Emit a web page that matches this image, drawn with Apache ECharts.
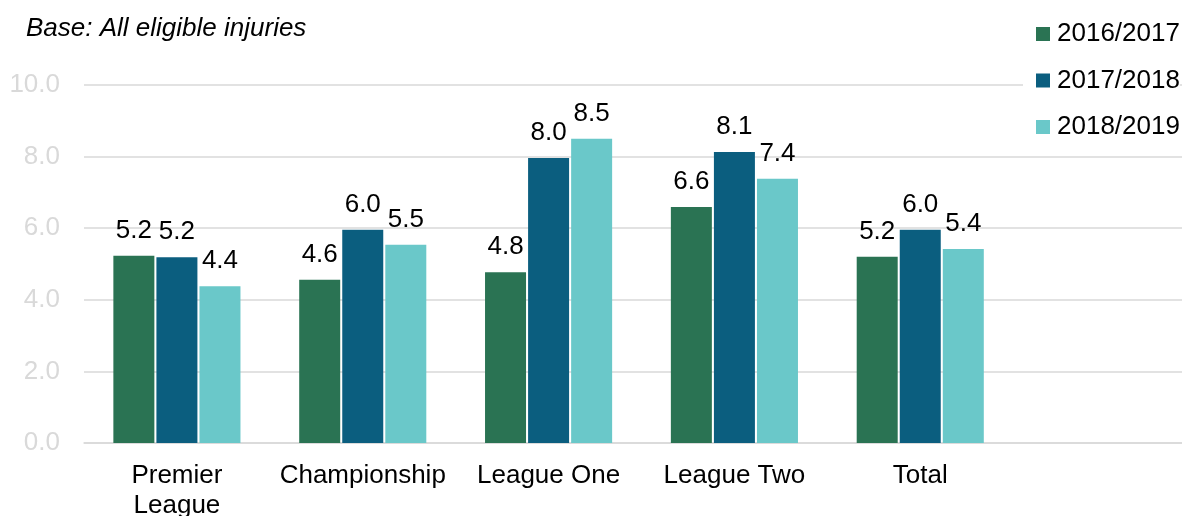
<!DOCTYPE html>
<html>
<head>
<meta charset="utf-8">
<script src="https://cdn.jsdelivr.net/npm/echarts@6/dist/echarts.min.js"></script>
<style>
  html, body { margin: 0; padding: 0; background: #fff; }
  #chart { width: 1182px; height: 516px; }
</style>
</head>
<body>
<div id="chart"></div>
<script>
// categories (last slot is an empty placeholder, as in the source)
const categories = ['Premier\nLeague', 'Championship', 'League One', 'League Two', 'Total', '']
const seasons = ['2016/2017', '2017/2018', '2018/2019']
const s2016 = [5.23, 4.56, 4.77, 6.59, 5.2]
const s2017 = [5.19, 5.96, 7.96, 8.13, 5.96]
const s2018 = [4.38, 5.54, 8.5, 7.38, 5.42]
const colors = ['#2a7353', '#0b5e7f', '#6ac8c9']

const font = 'Liberation Sans, Arial, sans-serif'

const makeSeries = (name, data, color) => ({
  name: name,
  type: 'bar',
  data: data,
  barWidth: 41,
  barGap: '5%',
  itemStyle: { color: color },
  label: {
    show: true,
    position: 'top',
    distance: 12,
    color: '#000',
    fontSize: 26,
    fontFamily: font,
    formatter: p => p.value.toFixed(1)
  }
})

const option = {
  animation: false,
  backgroundColor: '#fff',
  title: {
    text: 'Base: All eligible injuries',
    left: 21,
    top: 11,
    textStyle: {
      fontSize: 26,
      fontStyle: 'italic',
      fontWeight: 'normal',
      color: '#000',
      fontFamily: font
    }
  },
  legend: {
    orient: 'vertical',
    left: 1023,
    top: 21,
    padding: [0, 0, 0, 13],
    backgroundColor: '#fff',
    itemWidth: 14,
    itemHeight: 14,
    itemGap: 20.5,
    icon: 'rect',
    data: seasons,
    textStyle: {
      fontSize: 26,
      lineHeight: 26,
      color: '#000',
      fontFamily: font,
      padding: [0, 0, 0, 2]
    }
  },
  grid: {
    left: 84,
    top: 85,
    width: 1115,
    height: 358,
    outerBoundsMode: 'none',
    containLabel: false
  },
  xAxis: {
    type: 'category',
    data: categories,
    axisLine: { show: true, lineStyle: { color: '#d9d9d9', width: 1.5 } },
    axisTick: { show: false },
    axisLabel: {
      margin: 18,
      fontSize: 26,
      lineHeight: 30,
      color: '#000',
      fontFamily: font,
      interval: 0
    }
  },
  yAxis: {
    type: 'value',
    min: 0,
    max: 10,
    interval: 2,
    axisLine: { show: false },
    axisTick: { show: false },
    splitLine: { lineStyle: { color: '#d9d9d9', width: 1.5 } },
    axisLabel: {
      margin: 24,
      fontSize: 26,
      color: '#d9d9d9',
      fontFamily: font,
      formatter: v => v.toFixed(1)
    }
  },
  series: [
    makeSeries(seasons[0], s2016, colors[0]),
    makeSeries(seasons[1], s2017, colors[1]),
    makeSeries(seasons[2], s2018, colors[2])
  ]
}

const chart = echarts.init(document.getElementById('chart'))
chart.setOption(option)
</script>
</body>
</html>
